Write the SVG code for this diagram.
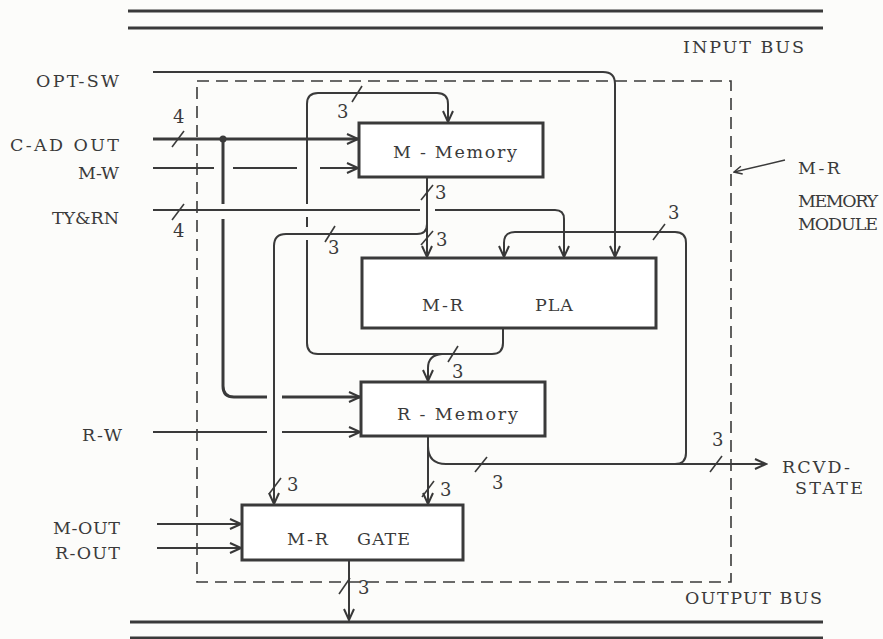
<svg xmlns="http://www.w3.org/2000/svg" width="883" height="639" viewBox="0 0 883 639">
<defs>
<marker id="ah" markerUnits="userSpaceOnUse" markerWidth="14" markerHeight="12" refX="12" refY="6" orient="auto">
<path d="M1,1 L12,6 L1,11" fill="none" stroke="#383838" stroke-width="2"/>
</marker>
<marker id="ahs" markerUnits="userSpaceOnUse" markerWidth="10" markerHeight="10" refX="9" refY="5" orient="auto">
<path d="M1,1 L9,5 L1,9" fill="none" stroke="#383838" stroke-width="1.5"/>
</marker>
</defs>
<style>
text{font-family:"DejaVu Serif","Liberation Serif",serif;fill:#3a3a3a;}
.lbl{font-size:17.5px;}
.num{font-size:18px;}
.box{fill:#fff;stroke:#3a3a3a;stroke-width:3;}
.bus{stroke:#3a3a3a;stroke-width:3;fill:none;}
.c{fill:none;stroke:#3a3a3a;stroke-width:2;}
.ct{fill:none;stroke:#3a3a3a;stroke-width:3;}
.arr{marker-end:url(#ah);}
.sl{stroke:#3a3a3a;stroke-width:1.6;}
.dash{fill:none;stroke:#3a3a3a;stroke-width:1.6;stroke-dasharray:12 7;}
</style>
<rect width="883" height="639" fill="#fcfcfa"/>

<g id="input-bus">
<line class="bus" x1="128" y1="11" x2="823" y2="11"/>
<line class="bus" x1="128" y1="28" x2="823" y2="28"/>
<text class="lbl" x="683" y="53" textLength="121" lengthAdjust="spacing">INPUT BUS</text>
</g>
<g id="output-bus">
<line class="bus" x1="130" y1="622" x2="823" y2="622"/>
<line class="bus" x1="130" y1="638" x2="823" y2="638"/>
<text class="lbl" x="685" y="604" textLength="137" lengthAdjust="spacing">OUTPUT BUS</text>
</g>

<g id="module-boundary">
<rect class="dash" x="197" y="81" width="534" height="501"/>
<line x1="785" y1="160" x2="734" y2="172" stroke="#3a3a3a" stroke-width="1.5" marker-end="url(#ahs)"/>
<text class="lbl" x="798" y="174" textLength="42" lengthAdjust="spacing">M-R</text>
<text class="lbl" x="798" y="207" textLength="80" lengthAdjust="spacing">MEMORY</text>
<text class="lbl" x="798" y="230" textLength="80" lengthAdjust="spacing">MODULE</text>
</g>

<g id="inputs">
<text class="lbl" x="36" y="87" textLength="83" lengthAdjust="spacing">OPT-SW</text>
<text class="lbl" x="10" y="151" textLength="109" lengthAdjust="spacing">C-AD OUT</text>
<text class="lbl" x="78" y="179" textLength="41" lengthAdjust="spacing">M-W</text>
<text class="lbl" x="52" y="224" textLength="67" lengthAdjust="spacing">TY&amp;RN</text>
<text class="lbl" x="82" y="441" textLength="40" lengthAdjust="spacing">R-W</text>
<text class="lbl" x="53" y="534" textLength="67" lengthAdjust="spacing">M-OUT</text>
<text class="lbl" x="55" y="559" textLength="65" lengthAdjust="spacing">R-OUT</text>
</g>

<g id="connectors">
<!-- OPT-SW -->
<path class="c arr" d="M153,72 H603 Q615,72 615,84 V257"/>
<!-- C-AD OUT -->
<path class="ct arr" d="M153,139 H358"/>
<circle cx="223" cy="139" r="3.5" fill="#3a3a3a"/>
<path class="ct" d="M223,139 V204 M223,219 V386 Q223,397 234,397 H267"/>
<path class="ct arr" d="M282,397 H360"/>
<!-- M-W -->
<path class="c" d="M153,168 H214 M233,168 H297"/>
<path class="c arr" d="M320,168 H358"/>
<!-- TY&RN -->
<path class="c" d="M153,210 H420"/>
<path class="c arr" d="M435,210 H555 Q564,210 564,219 V257"/>
<!-- M-Memory output -->
<path class="c arr" d="M427,177 V257"/>
<path class="c arr" d="M427,224 Q427,234 417,234 H286 Q274,234 274,246 V504"/>
<!-- PLA output loop -->
<path class="c arr" d="M503,328 V343 Q503,354 492,354 H318 Q307,354 307,343 V240 M307,227 V217 M307,204 V104 Q307,93 318,93 H437 Q448,93 448,104 V122"/>
<path class="c arr" d="M442,354 Q428,355 428,368 V381"/>
<!-- R-Memory output -->
<path class="c arr" d="M428,436 V504"/>
<path class="c arr" d="M428,446 Q428,464 446,464 H766"/>
<path class="c arr" d="M675,464 Q686,464 686,453 V243 Q686,232 675,232 H515 Q504,232 504,243 V257"/>
<!-- R-W -->
<path class="c" d="M153,432 H267"/>
<path class="c arr" d="M282,432 H360"/>
<!-- M-OUT / R-OUT -->
<path class="c arr" d="M157,524 H241"/>
<path class="c arr" d="M157,548 H241"/>
<!-- GATE output -->
<path class="c arr" d="M349,560 V620"/>

<!-- bus-width slashes -->
<line class="sl" x1="172" y1="147" x2="184" y2="131"/>
<line class="sl" x1="172" y1="220" x2="184" y2="204"/>
<line class="sl" x1="352" y1="102" x2="362" y2="86"/>
<line class="sl" x1="421" y1="200" x2="433" y2="185"/>
<line class="sl" x1="421" y1="245" x2="433" y2="231"/>
<line class="sl" x1="325" y1="242" x2="335" y2="226"/>
<line class="sl" x1="269" y1="494" x2="281" y2="478"/>
<line class="sl" x1="422" y1="497" x2="434" y2="481"/>
<line class="sl" x1="475" y1="472" x2="487" y2="457"/>
<line class="sl" x1="710" y1="472" x2="722" y2="456"/>
<line class="sl" x1="653" y1="240" x2="665" y2="224"/>
<line class="sl" x1="448" y1="362" x2="458" y2="346"/>
<line class="sl" x1="339" y1="594" x2="350" y2="578"/>
</g>

<g id="width-labels">
<text class="num" x="173" y="123">4</text>
<text class="num" x="173" y="237">4</text>
<text class="num" x="337" y="118">3</text>
<text class="num" x="435" y="199">3</text>
<text class="num" x="436" y="246">3</text>
<text class="num" x="328" y="254">3</text>
<text class="num" x="287" y="491">3</text>
<text class="num" x="440" y="496">3</text>
<text class="num" x="492" y="489">3</text>
<text class="num" x="712" y="446">3</text>
<text class="num" x="668" y="219">3</text>
<text class="num" x="452" y="378">3</text>
<text class="num" x="358" y="594">3</text>
</g>

<g id="rcvd-state">
<text class="lbl" x="782" y="473" textLength="68" lengthAdjust="spacing">RCVD-</text>
<text class="lbl" x="795" y="494" textLength="68" lengthAdjust="spacing">STATE</text>
</g>

<g id="m-memory">
<rect class="box" x="359" y="123" width="184" height="54"/>
<text class="lbl" x="393" y="158" textLength="124" lengthAdjust="spacing">M - Memory</text>
</g>
<g id="m-r-pla">
<rect class="box" x="362" y="258" width="294" height="70"/>
<text class="lbl" x="422" y="311" textLength="41" lengthAdjust="spacing">M-R</text>
<text class="lbl" x="535" y="311" textLength="38" lengthAdjust="spacing">PLA</text>
</g>
<g id="r-memory">
<rect class="box" x="361" y="382" width="184" height="54"/>
<text class="lbl" x="397" y="420" textLength="121" lengthAdjust="spacing">R - Memory</text>
</g>
<g id="m-r-gate">
<rect class="box" x="242" y="505" width="221" height="55"/>
<text class="lbl" x="287" y="545" textLength="41" lengthAdjust="spacing">M-R</text>
<text class="lbl" x="357" y="545" textLength="53" lengthAdjust="spacing">GATE</text>
</g>
</svg>
